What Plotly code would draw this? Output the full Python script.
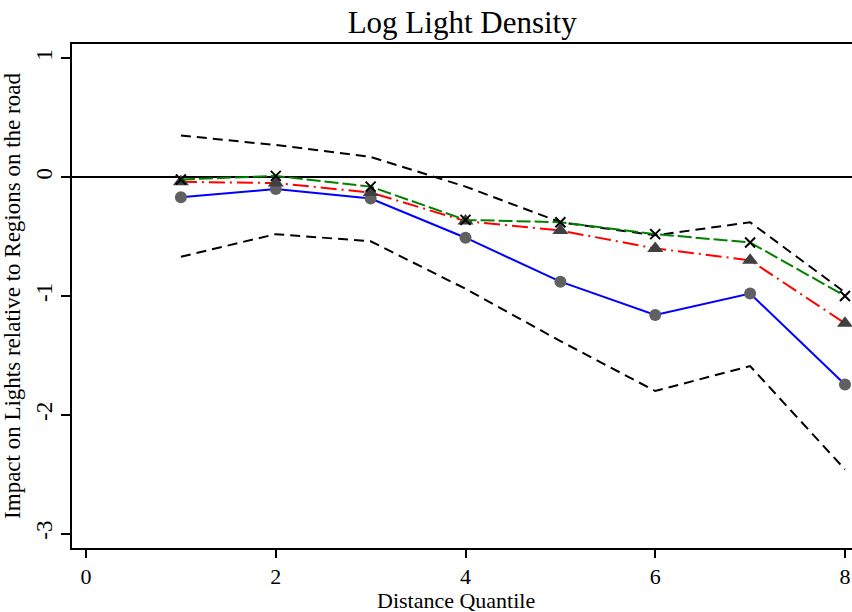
import plotly.graph_objects as go

quantile = [1, 2, 3, 4, 5, 6, 7, 8]
baseline = [-0.17, -0.10, -0.18, -0.51, -0.88, -1.16, -0.98, -1.745]
ci_upper = [0.35, 0.27, 0.17, -0.08, -0.38, -0.49, -0.38, -0.97]
ci_lower = [-0.67, -0.48, -0.54, -0.94, -1.38, -1.80, -1.59, -2.46]
spec_red = [-0.04, -0.05, -0.13, -0.37, -0.45, -0.60, -0.70, -1.23]
spec_green = [-0.02, 0.01, -0.08, -0.36, -0.38, -0.48, -0.55, -1.00]

x_ticks = [0, 2, 4, 6, 8]
y_ticks = [-3, -2, -1, 0, 1]
y_tick_text = ["-3", "-2", "-1", "0", "1"]

FONT = "Liberation Serif, Times New Roman, serif"

fig = go.Figure()
fig.add_trace(go.Scatter(x=quantile, y=ci_upper, mode="lines",
                         line=dict(color="black", width=2, dash="10px,6px")))
fig.add_trace(go.Scatter(x=quantile, y=ci_lower, mode="lines",
                         line=dict(color="black", width=2, dash="10px,6px")))
fig.add_trace(go.Scatter(x=quantile, y=baseline, mode="lines+markers",
                         line=dict(color="blue", width=2),
                         marker=dict(symbol="circle", size=12, color="#606060")))
fig.add_trace(go.Scatter(x=quantile, y=spec_red, mode="lines+markers",
                         line=dict(color="red", width=2, dash="16px,5px,2px,5px"),
                         marker=dict(symbol="triangle-up", size=14, color="#404040")))
fig.add_trace(go.Scatter(x=quantile, y=spec_green, mode="lines+markers",
                         line=dict(color="green", width=2, dash="14px,4px"),
                         marker=dict(symbol="x-thin", size=10, color="black",
                                     line=dict(color="black", width=2))))

fig.add_annotation(text="Distance Quantile", xref="paper", yref="paper",
                   x=0.4923, y=-(600 - 548) / 504, xanchor="center",
                   yanchor="middle", showarrow=False,
                   font=dict(family=FONT, size=22, color="black"))

fig.update_layout(
    width=852, height=612,
    margin=dict(l=72, r=0, t=44, b=64),
    paper_bgcolor="white", plot_bgcolor="white",
    showlegend=False,
    font=dict(family=FONT, color="black", size=23),
    title=dict(text="Log Light Density", x=0.5425, xanchor="center",
               y=1 - 22 / 612, yanchor="middle",
               font=dict(family=FONT, size=31, color="black")),
    xaxis=dict(range=[-0.148, 8.074], tickvals=x_ticks, ticks="outside",
               ticklen=8, tickwidth=1.5, tickcolor="black",
               showline=True, linecolor="black", linewidth=1.5, mirror=True,
               showgrid=False, zeroline=False,
               tickfont=dict(family=FONT, size=22)),
    yaxis=dict(range=[-3.121, 1.12], tickvals=y_ticks, ticktext=y_tick_text,
               ticks="outside",
               ticklen=9, tickwidth=1.5, tickcolor="black", tickangle=-90,
               showline=True, linecolor="black", linewidth=1.5,
               showgrid=False, zeroline=True, zerolinecolor="black",
               zerolinewidth=1.5,
               title=dict(text="Impact on Lights relative to Regions on the road",
                          standoff=6, font=dict(family=FONT, size=23)),
               tickfont=dict(family=FONT, size=23)),
)

fig.write_html("out.html")
